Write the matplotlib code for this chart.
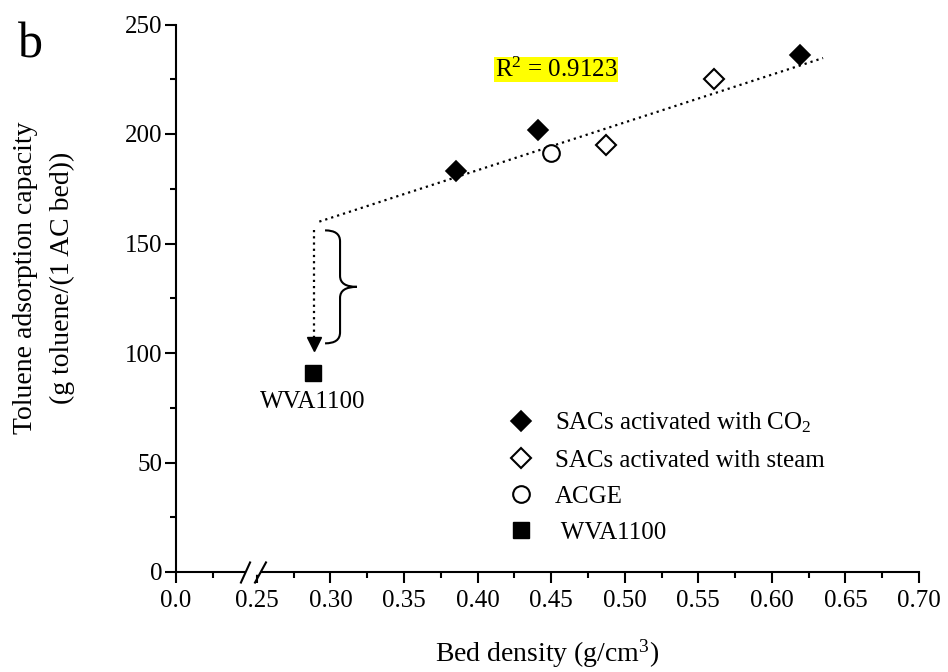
import numpy as np
import matplotlib
matplotlib.use('Agg')
import matplotlib.pyplot as plt
from matplotlib.path import Path
from matplotlib.patches import PathPatch

plt.rcParams['font.family'] = ['Liberation Serif', 'DejaVu Serif']
plt.rcParams['mathtext.fontset'] = 'custom'
plt.rcParams['mathtext.rm'] = 'Liberation Serif'
plt.rcParams['mathtext.it'] = 'Liberation Serif:italic'

# data
co2_x = [0.385, 0.441, 0.619]
co2_y = [183, 202, 236]
steam_x = [0.487, 0.561]
steam_y = [195, 225]
acge_x = [0.450]
acge_y = [191.5]
wva_x = [0.288]
wva_y = [91]

trend_x = [0.2924, 0.6348]
trend_y = [160.0, 234.7]
r2_text = 'R$^2$ = 0.9123'

arrow_x = 0.289
arrow_top, arrow_bot = 156, 101

xticks = [0.0, 0.25, 0.30, 0.35, 0.40, 0.45, 0.50, 0.55, 0.60, 0.65, 0.70]
xticklabels = ['0.0', '0.25', '0.30', '0.35', '0.40', '0.45', '0.50', '0.55', '0.60', '0.65', '0.70']
xminor = [0.025] + list(np.arange(0.275, 0.70, 0.05))


# broken x axis: 0-0.05 then jump to 0.25
def fwd(x):
    x = np.asarray(x, float)
    return np.where(x <= 0.05, x, np.where(x >= 0.25, x - 0.195, 0.05 + (x - 0.05) * 0.025))

def inv(t):
    t = np.asarray(t, float)
    return np.where(t <= 0.05, t, np.where(t >= 0.055, t + 0.195, 0.05 + (t - 0.05) / 0.025))


fig = plt.figure(figsize=(9.48, 6.72), dpi=100)
ax = fig.add_axes([176/948., 100/672., 743/948., 547.5/672.])
ax.set_xscale('function', functions=(fwd, inv))

ax.plot(trend_x, trend_y, color='k', lw=1.6, ls=(0, (1, 1.8)), zorder=2)

ax.plot(co2_x, co2_y, ls='none', marker='D', ms=10, mfc='k', mec='k', mew=1.2, zorder=4,
        label='SACs activated with CO$_2$')
ax.plot(steam_x, steam_y, ls='none', marker='D', ms=10, mfc='w', mec='k', mew=1.5, zorder=4,
        label='SACs activated with steam')
ax.plot(acge_x, acge_y, ls='none', marker='o', ms=12, mfc='w', mec='k', mew=1.5, zorder=4,
        label='ACGE')
ax.plot(wva_x, wva_y, ls='none', marker='s', ms=12, mfc='k', mec='k', mew=1, zorder=4,
        label=' WVA1100')
ax.annotate('WVA1100', xy=(wva_x[0], wva_y[0]), xytext=(0, -13), textcoords='offset points',
            ha='center', va='top', fontsize=18)

# dotted drop arrow
ax.plot([arrow_x, arrow_x], [arrow_top, arrow_bot + 6], color='k', lw=1.6, ls=(0, (1, 1.8)))
ax.plot([arrow_x], [arrow_bot + 3], marker='v', ms=10, color='k', ls='none')

# curly brace
bx0, bx1, bx2 = 0.2963, 0.3065, 0.318
bt, bb = 156, 104.4
bm = (bt + bb) / 2
verts = [(bx0, bt), (bx1, bt), (bx1, bt - 5), (bx1, bm + 5), (bx1, bm), (bx2, bm),
         (bx1, bm), (bx1, bm - 5), (bx1, bb + 5), (bx1, bb), (bx0, bb)]
codes = [Path.MOVETO, Path.CURVE3, Path.CURVE3, Path.LINETO, Path.CURVE3, Path.CURVE3,
         Path.CURVE3, Path.CURVE3, Path.LINETO, Path.CURVE3, Path.CURVE3]
ax.add_patch(PathPatch(Path(verts, codes), fc='none', ec='k', lw=1.5))

ax.text(0.4534, 229.5, r2_text, fontsize=18, ha='center', va='center',
        bbox=dict(boxstyle='square,pad=0.02', fc='#ffff00', ec='none'))

ax.set_xlim(0, 0.70)
ax.set_ylim(0, 250)
ax.set_xticks(xticks)
ax.set_xticklabels(xticklabels)
ax.set_xticks(xminor, minor=True)
ax.set_yticks(np.arange(0, 251, 50))
ax.set_yticks(np.arange(25, 250, 50), minor=True)

for s in ['top', 'right']:
    ax.spines[s].set_visible(False)
for s in ['left', 'bottom']:
    ax.spines[s].set_linewidth(1.5)
ax.tick_params(which='major', length=8, width=1.5, labelsize=18, direction='out')
ax.tick_params(which='minor', length=4, width=1.5, direction='out')
ax.tick_params(axis='x', pad=5)
ax.tick_params(axis='y', pad=2)

# axis break marks
xb = 0.15
gap = Path([(-7.5, 0), (7.5, 0)], [Path.MOVETO, Path.LINETO])
slashes = Path([(-13, -11), (-3, 11), (1, -11), (13, 11)],
               [Path.MOVETO, Path.LINETO, Path.MOVETO, Path.LINETO])
ax.plot([xb], [0], marker=gap, ms=10.8, mec='w', mew=4, ls='none', clip_on=False, zorder=5)
ax.plot([xb], [0], marker=slashes, ms=18.7, mec='k', mfc='none', mew=1.5, ls='none',
        clip_on=False, zorder=6)

ax.set_xlabel('Bed density (g/cm$^3$)', fontsize=20, labelpad=18)
ax.set_ylabel('Toluene adsorption capacity\n(g toluene/(1 AC bed))', fontsize=20,
              linespacing=1.6, va='center')
ax.yaxis.set_label_coords(-0.178, 0.537)

ax.legend(loc='upper left', bbox_to_anchor=(0.447, 0.2945), frameon=False, fontsize=18,
          handlelength=1.0, handletextpad=0.86, labelspacing=0.55, borderpad=0,
          borderaxespad=0)

fig.text(18/948., 1 - 57/672., 'b', fontsize=36, va='baseline')

fig.savefig('out.png', dpi=100)
